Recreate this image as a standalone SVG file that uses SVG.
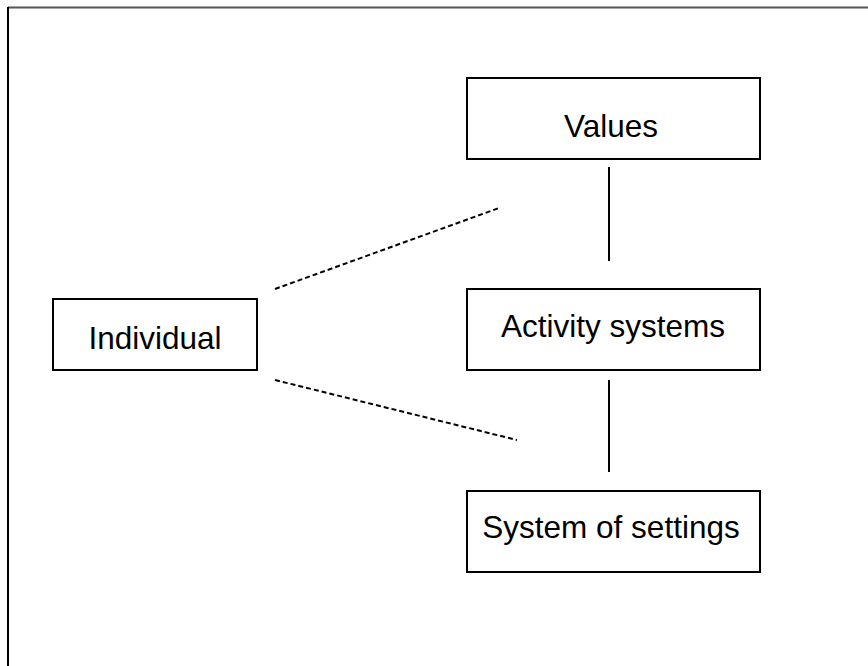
<svg xmlns="http://www.w3.org/2000/svg" width="868" height="666" viewBox="0 0 868 666">
<style>
.box{fill:#fff;stroke:#000;stroke-width:2}
.lbl{font-family:"Liberation Sans",Arial,sans-serif;font-size:31.5px;fill:#000;text-anchor:middle}
.solid{stroke:#000;stroke-width:2;fill:none}
.dash{stroke:#000;stroke-width:2;fill:none;stroke-dasharray:5 3}
</style>
<rect width="868" height="666" fill="#fff"/>
<g id="frame">
<line x1="8" y1="7.5" x2="868" y2="7.5" stroke="#555" stroke-width="2"/>
<line x1="8" y1="7" x2="8" y2="666" stroke="#000" stroke-width="2"/>
</g>
<g id="connectors">
<line class="solid" x1="609" y1="167" x2="609" y2="261"/>
<line class="solid" x1="609" y1="380" x2="609" y2="472"/>
<line class="dash" x1="275" y1="289" x2="499" y2="208"/>
<line class="dash" x1="275" y1="380" x2="517" y2="440"/>
</g>
<g id="values">
<rect class="box" x="467" y="78" width="293" height="81"/>
<text class="lbl" x="611" y="137">Values</text>
</g>
<g id="activity">
<rect class="box" x="467" y="289" width="293" height="81"/>
<text class="lbl" x="613" y="337">Activity systems</text>
</g>
<g id="settings">
<rect class="box" x="467" y="491" width="293" height="81"/>
<text class="lbl" x="611" y="538">System of settings</text>
</g>
<g id="individual">
<rect class="box" x="53" y="299" width="204" height="71"/>
<text class="lbl" x="155" y="349">Individual</text>
</g>
</svg>
